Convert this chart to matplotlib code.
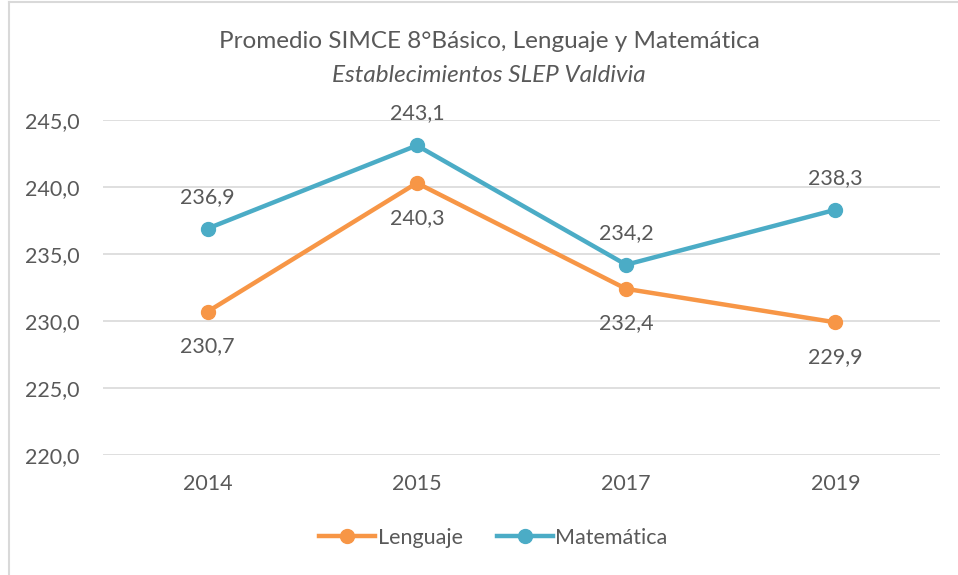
import matplotlib.pyplot as plt
from matplotlib.lines import Line2D

years = ["2014", "2015", "2017", "2019"]
lenguaje = [230.7, 240.3, 232.4, 229.9]
matematica = [236.9, 243.1, 234.2, 238.3]
yticks = [220, 225, 230, 235, 240, 245]

orange = "#F79646"
blue = "#4BACC6"
grey = "#595959"
fs = 15.5

plt.rcParams["font.family"] = ["Lato", "DejaVu Sans"]

fig = plt.figure(figsize=(9.58, 5.75), dpi=100)
ax = fig.add_axes([103 / 958, 1 - 455 / 575, 837 / 958, 335 / 575])

x = range(len(years))
ax.plot(x, lenguaje, color=orange, lw=3.2, marker="o", ms=10, label="Lenguaje",
        solid_capstyle="round")
ax.plot(x, matematica, color=blue, lw=3.2, marker="o", ms=10, label="Matemática",
        solid_capstyle="round")

fmt = lambda v: f"{v:.1f}".replace(".", ",")
for i, v in enumerate(lenguaje):
    ax.annotate(fmt(v), (i, v), xytext=(0, -25), textcoords="offset points",
                ha="center", va="center", fontsize=fs, color=grey)
for i, v in enumerate(matematica):
    ax.annotate(fmt(v), (i, v), xytext=(0, 23), textcoords="offset points",
                ha="center", va="center", fontsize=fs, color=grey)

ax.set_xlim(-0.5, len(years) - 0.5)
ax.set_ylim(220, 245)
ax.set_xticks(list(x))
ax.set_xticklabels(years)
ax.set_yticks(yticks)
ax.set_yticklabels([fmt(v) for v in yticks])
ax.tick_params(length=0, labelsize=fs, labelcolor=grey)
ax.tick_params(axis="x", pad=14)
ax.tick_params(axis="y", pad=17)
ax.grid(axis="y", color="#D9D9D9", lw=1.2)
ax.set_axisbelow(True)
for s in ax.spines.values():
    s.set_visible(False)

fig.text(489 / 958, 1 - 42 / 575, "Promedio SIMCE 8°Básico, Lenguaje y Matemática",
         ha="center", va="center", fontsize=17.5, color=grey)
fig.text(489 / 958, 1 - 75 / 575, "Establecimientos SLEP Valdivia",
         ha="center", va="center", fontsize=17.5, color=grey, style="italic")

handles = [Line2D([], [], color=orange, lw=3.2, marker="o", ms=10),
           Line2D([], [], color=blue, lw=3.2, marker="o", ms=10)]
fig.legend(handles, ["Lenguaje", "Matemática"], loc="center",
           bbox_to_anchor=(0.515, 1 - 538 / 575), ncol=2, frameon=False,
           fontsize=fs, labelcolor=grey, handlelength=2.6, handletextpad=0.1,
           columnspacing=1.6)

fig.add_artist(Line2D([9 / 958, 9 / 958], [0, 1 - 2 / 575], color="#D9D9D9", lw=1.5))
fig.add_artist(Line2D([9 / 958, 1], [1 - 2 / 575, 1 - 2 / 575], color="#D9D9D9", lw=1.5))

fig.savefig("out.png", dpi=100)
